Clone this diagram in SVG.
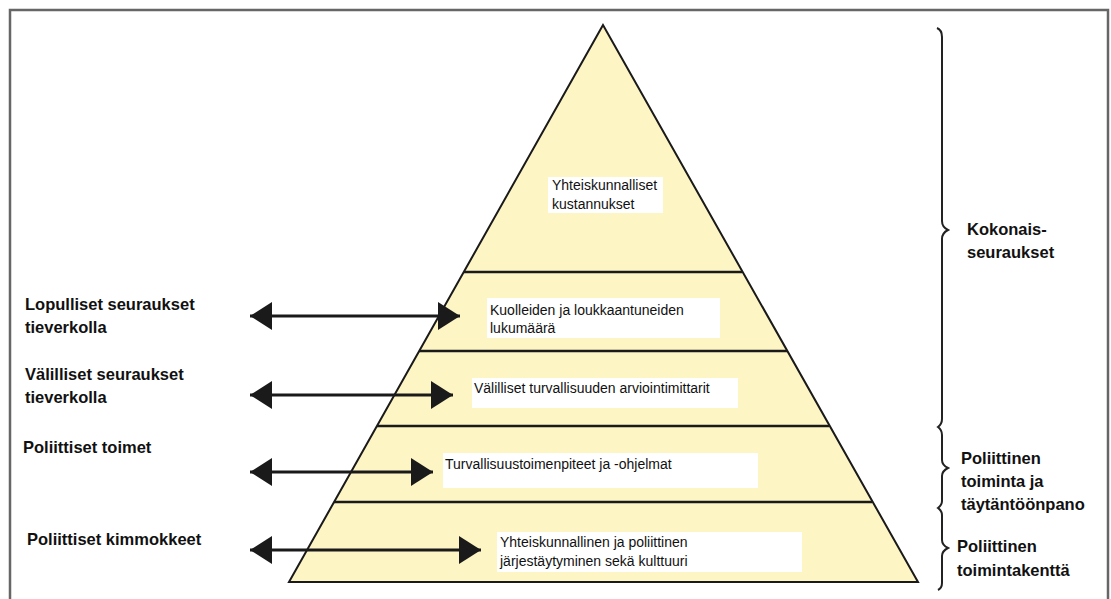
<svg xmlns="http://www.w3.org/2000/svg" width="1111" height="599" viewBox="0 0 1111 599">
<style>
.box{fill:#ffffff;stroke:none}
.t{font-family:"Liberation Sans",Arial,sans-serif;font-size:14px;fill:#111}
.lbl{font-family:"Liberation Sans",Arial,sans-serif;font-size:16.5px;font-weight:bold;fill:#111}
.sep{stroke:#1a1a1a;stroke-width:2.5;fill:none}
.arr{stroke:#1a1a1a;stroke-width:3;fill:none;marker-start:url(#ah);marker-end:url(#ah)}
.brace{stroke:#222;stroke-width:2;fill:none}
</style>
<defs>
<marker id="ah" markerUnits="userSpaceOnUse" markerWidth="24" markerHeight="30" viewBox="0 0 24 30" refX="22" refY="15" orient="auto-start-reverse">
<path d="M0,1 L22,15 L0,29 Z" fill="#1a1a1a"/>
</marker>
</defs>
<rect width="1111" height="599" fill="#ffffff"/>
<rect id="frame" x="10" y="10" width="1098" height="600" fill="none" stroke="#666" stroke-width="2.5"/>

<g id="pyramid">
<polygon points="603,25 289,582 918,582" fill="#fef5c4" stroke="#1a1a1a" stroke-width="2"/>
<line class="sep" x1="464" y1="272" x2="742" y2="272"/>
<line class="sep" x1="419" y1="351" x2="787" y2="351"/>
<line class="sep" x1="377" y1="426" x2="829" y2="426"/>
<line class="sep" x1="334" y1="502" x2="872" y2="502"/>
</g>

<g id="level1">
<rect class="box" x="548" y="177" width="115" height="36"/>
<text class="t" x="552" y="190">Yhteiskunnalliset</text>
<text class="t" x="552" y="209">kustannukset</text>
</g>
<g id="level2">
<rect class="box" x="487" y="298" width="233" height="40"/>
<text class="t" x="490" y="315">Kuolleiden ja loukkaantuneiden</text>
<text class="t" x="490" y="333">lukumäärä</text>
</g>
<g id="level3">
<rect class="box" x="472" y="378" width="266" height="30"/>
<text class="t" x="474" y="393">Välilliset turvallisuuden arviointimittarit</text>
</g>
<g id="level4">
<rect class="box" x="443" y="453" width="315" height="35"/>
<text class="t" x="445" y="469">Turvallisuustoimenpiteet ja -ohjelmat</text>
</g>
<g id="level5">
<rect class="box" x="497" y="532" width="305" height="40"/>
<text class="t" x="500" y="547">Yhteiskunnallinen ja poliittinen</text>
<text class="t" x="500" y="566">järjestäytyminen sekä kulttuuri</text>
</g>

<g id="left-labels">
<g id="lbl-lopulliset">
<text class="lbl" x="25" y="310">Lopulliset seuraukset</text>
<text class="lbl" x="25" y="333">tieverkolla</text>
</g>
<g id="lbl-valilliset">
<text class="lbl" x="25" y="380">Välilliset seuraukset</text>
<text class="lbl" x="25" y="403">tieverkolla</text>
</g>
<g id="lbl-toimet">
<text class="lbl" x="23" y="453">Poliittiset toimet</text>
</g>
<g id="lbl-kimmokkeet">
<text class="lbl" x="27" y="545">Poliittiset kimmokkeet</text>
</g>
</g>

<g id="connectors">
<line class="arr" x1="250" y1="316" x2="460" y2="316"/>
<line class="arr" x1="250" y1="395" x2="453" y2="395"/>
<line class="arr" x1="250" y1="472" x2="433" y2="472"/>
<line class="arr" x1="250" y1="550" x2="481" y2="550"/>
</g>

<g id="braces">
<path class="brace" d="M937,28 q5,2 5,9 L942,221 q0,6 6,9 q-6,3 -6,9 L942,419 q0,5 -4,8 q4,3 4,8 L942,460 q0,5 6,8 q-6,3 -6,8 L942,501 q0,4 -4,7 q4,3 4,7 L942,540 q0,5 6,8 q-6,3 -6,8 L942,583 q0,5 -4,7"/>
</g>

<g id="right-labels">
<g id="lbl-kokonais">
<text class="lbl" x="967" y="235">Kokonais-</text>
<text class="lbl" x="967" y="258">seuraukset</text>
</g>
<g id="lbl-toiminta">
<text class="lbl" x="961" y="464">Poliittinen</text>
<text class="lbl" x="961" y="487">toiminta ja</text>
<text class="lbl" x="961" y="510">täytäntöönpano</text>
</g>
<g id="lbl-toimintakentta">
<text class="lbl" x="957" y="552">Poliittinen</text>
<text class="lbl" x="957" y="576">toimintakenttä</text>
</g>
</g>
</svg>
